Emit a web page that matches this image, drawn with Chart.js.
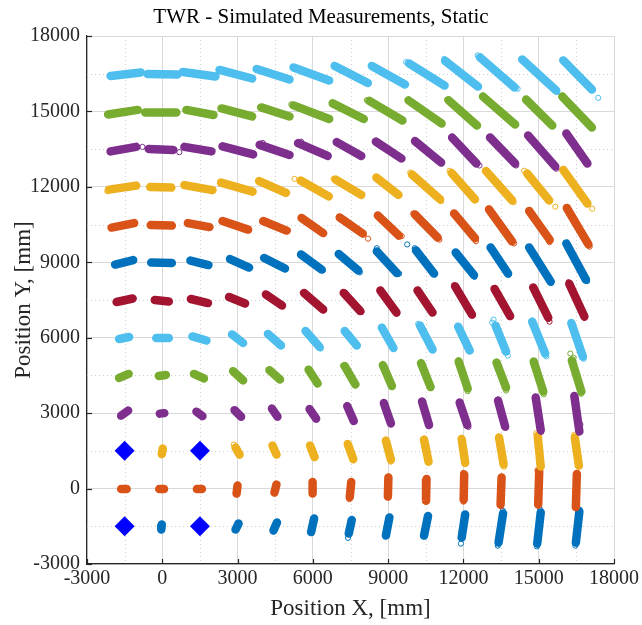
<!DOCTYPE html>
<html><head><meta charset="utf-8">
<script src="https://cdn.jsdelivr.net/npm/chart.js@4.4.0/dist/chart.umd.min.js"></script>
<style>html,body{margin:0;padding:0;background:#fff}#wrap{width:642px;height:625px}</style>
</head><body><div id="wrap"><canvas id="c" width="642" height="625"></canvas></div>
<script>
// ---- data (mm) ----
const majorTicks = [-3000, 0, 3000, 6000, 9000, 12000, 15000, 18000];
const minorTicks = [-1500, 1500, 4500, 7500, 10500, 13500, 16500];
const anchorsX = [-1500, 1500, -1500, 1500];
const anchorsY = [-1500, -1500, 1500, 1500];
// each cluster: [x1, y1, x2, y2] = the two ends of the measurement cloud
const segY_m1500 = [[-20,-1430,-40,-1630],[3040,-1390,2920,-1630],[4570,-1350,4430,-1670],[6050,-1190,5930,-1730],[7550,-1250,7430,-1790],[9050,-1150,8910,-1870],[10590,-1090,10430,-1870],[12070,-1030,11930,-1950],[13580,-990,13400,-2150],[15080,-950,14940,-2190],[16620,-910,16480,-2150]];
const segY_0 = [[-1640,-20,-1420,-20],[-120,-20,70,-20],[1380,-20,1580,-20],[3000,120,2960,-200],[4550,160,4470,-160],[5990,260,5990,-200],[7530,260,7470,-340],[9010,440,8990,-320],[10530,380,10510,-480],[12030,560,12010,-440],[13520,440,13480,-640],[15020,680,14980,-640],[16520,580,16480,-740]];
const segY_1500 = [[20,1590,-20,1370],[2920,1630,3080,1350],[4390,1710,4550,1350],[5890,1710,6070,1250],[7390,1770,7610,1170],[8910,1910,9110,1150],[10430,1950,10610,1070],[11930,1970,12070,1030],[13420,2030,13600,970],[14960,2090,15080,880],[16440,2030,16600,910]];
const segY_3000 = [[-1640,2900,-1360,3100],[-100,2980,80,3000],[1360,3060,1600,2880],[2880,3120,3140,2860],[4370,3180,4590,2860],[5870,3160,6130,2780],[7370,3280,7630,2690],[8830,3400,9110,2590],[10350,3460,10630,2530],[11850,3420,12150,2530],[13380,3500,13660,2470],[14880,3620,15080,2330],[16420,3680,16620,2270]];
const segY_4500 = [[-1720,4400,-1340,4560],[-140,4480,140,4520],[1260,4560,1660,4380],[2820,4670,3220,4300],[4270,4710,4690,4340],[5830,4730,6190,4180],[7270,4870,7690,4140],[8790,4910,9150,4080],[10310,4990,10690,4040],[11810,5050,12170,3980],[13320,5010,13700,4020],[14800,5050,15180,3860],[16320,5090,16700,3860]];
const segY_6000 = [[-1720,5950,-1320,6030],[-240,5990,260,5990],[1200,6050,1760,5890],[2780,6130,3220,5790],[4210,6150,4730,5690],[5710,6270,6270,5630],[7270,6270,7750,5690],[8750,6400,9210,5590],[10270,6480,10770,5530],[11790,6440,12250,5490],[13280,6480,13700,5450],[14740,6640,15260,5370],[16300,6580,16760,5250]];
const segY_7500 = [[-1820,7420,-1180,7560],[-300,7500,260,7440],[1140,7540,1820,7380],[2660,7620,3300,7360],[4130,7720,4770,7280],[5650,7780,6410,7120],[7230,7780,7890,7060],[8690,7880,9330,7000],[10170,7880,10770,7000],[11670,8040,12340,6920],[13240,7940,13860,6860],[14780,8000,15380,6800],[16220,8140,16820,6840]];
const segY_9000 = [[-1880,8910,-1160,9090],[-440,8990,380,8970],[1120,9070,1840,8890],[2700,9130,3460,8790],[4060,9170,4890,8750],[5530,9310,6350,8710],[7030,9330,7810,8670],[8550,9430,9350,8570],[10110,9470,10830,8550],[11690,9390,12420,8490],[13080,9590,13780,8550],[14620,9590,15480,8230],[16100,9750,16880,8310]];
const segY_10500 = [[-2020,10380,-1120,10560],[-460,10480,380,10460],[1020,10560,1880,10400],[2400,10640,3420,10300],[4020,10640,4950,10260],[5550,10760,6410,10160],[7070,10780,7990,10140],[8590,10860,9430,10060],[10070,10900,10970,9990],[11630,10940,12460,9960],[13020,11100,13940,9830],[14620,11040,15440,9890],[16120,11160,16980,9710]];
const segY_12000 = [[-2120,11890,-1040,12050],[-480,11990,360,11970],[880,12070,2000,11870],[2340,12170,3600,11810],[3860,12230,4930,11760],[5510,12250,6630,11620],[6910,12290,7930,11680],[8530,12370,9410,11680],[9950,12490,11070,11500],[11530,12550,12460,11500],[12900,12630,13940,11460],[14540,12530,15420,11460],[15980,12670,16940,11340]];
const segY_13500 = [[-2060,13410,-1040,13590],[-540,13510,440,13470],[880,13590,1960,13410],[2400,13610,3620,13290],[3880,13670,5070,13270],[5410,13740,6590,13230],[6950,13780,7930,13230],[8510,13800,9530,13130],[10070,13820,11110,12970],[11550,13960,12520,12930],[13060,13960,14060,12930],[14580,14040,15660,12810],[16100,14120,16940,12930]];
const segY_15000 = [[-2160,14880,-980,15060],[-680,14960,560,14960],[960,15060,2040,14860],[2360,15120,3580,14800],[3940,15160,5070,14800],[5230,15240,6650,14700],[6790,15320,8030,14700],[8250,15420,9570,14640],[9810,15440,11130,14520],[11410,15440,12540,14440],[12780,15590,14060,14480],[14500,15470,15540,14440],[15940,15590,17120,14360]];
const segY_16500 = [[-2060,16410,-860,16550],[-580,16490,600,16470],[820,16570,2120,16390],[2280,16650,3580,16310],[3760,16690,5070,16270],[5230,16750,6650,16230],[6870,16810,8190,16130],[8350,16810,9670,16070],[9830,16910,11250,16030],[11270,17010,12580,15990],[12660,17150,14040,15950],[14340,17070,15700,15830],[15980,17030,17120,15870]];

const outY_m1500 = [[7400,-1960],[11900,-2190],[13370,-2270],[14930,-2300],[16460,-2270],[16630,-840],[13570,-880],[15060,-840]];
const outY_0 = [[11990,620],[13500,-700],[14950,730],[16500,-770],[12000,-520],[7450,-420]];
const outY_1500 = [[12040,980],[13620,870],[2850,1750],[14900,2200],[16420,2140],[9110,1070]];
const outY_3000 = [[16660,2550],[13700,2420],[12200,2450],[15100,2250]];
const outY_4500 = [[16260,5370],[16390,5200],[16690,3770],[7200,4890],[7740,4140],[11800,5100],[12170,3870],[13700,3900],[15200,3750]];
const outY_6000 = [[6310,5570],[10200,6550],[13200,6720],[13770,5290],[15300,5260],[16790,5160],[13150,6600]];
const outY_7500 = [[5600,7790],[6430,7090],[7940,7030],[9360,6960],[11630,8090],[12370,6880],[15390,6750],[15430,6640],[16190,8210],[16820,6790]];
const outY_9000 = [[9760,9710],[6400,8680],[7870,8600],[9440,8550],[12440,8420],[15490,8180],[16930,8250],[13800,8510],[8550,9560],[10060,9560]];
const outY_10500 = [[5010,10270],[8200,9940],[9540,10040],[10000,10940],[11040,9900],[12500,9840],[14020,9750],[15430,9800],[17030,9620],[13000,11140]];
const outY_12000 = [[-2190,11830],[5270,12320],[6670,11630],[6830,12320],[11110,11430],[14000,11390],[15660,11210],[17130,11130],[9880,12570],[11450,12640],[14420,12640]];
const outY_13500 = [[-790,13590],[680,13380],[11130,12930],[14100,12850],[12640,12850],[15700,12720],[4000,13750],[5530,13800]];
const outY_15000 = [[5140,15280],[6670,14680],[12770,15630],[15970,15630],[11350,15470],[8150,15450]];
const outY_16500 = [[17370,15540],[12570,17230],[15730,15770],[14160,15900],[11240,17090],[9720,16960]];

const rows = [segY_m1500, segY_0, segY_1500, segY_3000, segY_4500, segY_6000, segY_7500, segY_9000, segY_10500, segY_12000, segY_13500, segY_15000, segY_16500];
const outliers = [outY_m1500, outY_0, outY_1500, outY_3000, outY_4500, outY_6000, outY_7500, outY_9000, outY_10500, outY_12000, outY_13500, outY_15000, outY_16500];
const palette = ['#0072BD','#D95319','#EDB120','#7E2F8E','#77AC30','#4DBEEE','#A2142F'];

function toData(segs){
  const out = [];
  segs.forEach(s => { out.push({x:s[0],y:s[1]}, {x:s[2],y:s[3]}, {x:null,y:null}); });
  return out;
}

const datasets = [{
  label: 'Anchors',
  data: anchorsX.map((x,i)=>({x, y: anchorsY[i]})),
  pointStyle: 'rectRot', pointRadius: 10, pointHoverRadius: 10,
  backgroundColor: '#0000FF', borderColor: '#0000FF', borderWidth: 0,
  showLine: false, order: 0
}];
rows.forEach((segs, i) => {
  const c = palette[i % palette.length];
  datasets.push({
    label: 'row' + i, data: toData(segs), showLine: true, spanGaps: false,
    borderColor: c, backgroundColor: c, borderWidth: 8.5, borderCapStyle: 'round',
    pointRadius: 0, pointHoverRadius: 0, order: 100 - i
  });
  datasets.push({
    label: 'out' + i, data: outliers[i].map(p => ({x:p[0], y:p[1]})), showLine: false,
    pointStyle: 'circle', pointRadius: 2.6, pointHoverRadius: 2.6, pointBorderWidth: 1,
    borderColor: c, pointBorderColor: c, backgroundColor: 'rgba(255,255,255,0)',
    pointBackgroundColor: 'rgba(255,255,255,0)', order: 100 - i
  });
});

const SERIF = "'Liberation Serif', 'DejaVu Serif', serif";
const deco = {
  id: 'deco',
  beforeDatasetsDraw(chart){
    const {ctx, chartArea: a, scales:{x, y}} = chart;
    ctx.save();
    ctx.strokeStyle = '#cfcfcf'; ctx.lineWidth = 1; ctx.setLineDash([1,3]);
    minorTicks.forEach(v => {
      const px = Math.round(x.getPixelForValue(v)) + 0.5;
      ctx.beginPath(); ctx.moveTo(px, a.top); ctx.lineTo(px, a.bottom); ctx.stroke();
      const py = Math.round(y.getPixelForValue(v)) + 0.5;
      ctx.beginPath(); ctx.moveTo(a.left, py); ctx.lineTo(a.right, py); ctx.stroke();
    });
    ctx.restore();
  },
  afterDatasetsDraw(chart){
    const {ctx, chartArea: a, scales:{x, y}} = chart;
    ctx.save();
    ctx.strokeStyle = '#262626'; ctx.lineWidth = 1.2;
    majorTicks.forEach(v => {
      const px = Math.round(x.getPixelForValue(v)) + 0.5;
      ctx.beginPath(); ctx.moveTo(px, a.bottom); ctx.lineTo(px, a.bottom - 5); ctx.stroke();
      const py = Math.round(y.getPixelForValue(v)) + 0.5;
      ctx.beginPath(); ctx.moveTo(a.left, py); ctx.lineTo(a.left + 5, py); ctx.stroke();
    });
    ctx.restore();
  }
};

new Chart(document.getElementById('c'), {
  type: 'scatter',
  data: { datasets },
  plugins: [deco],
  options: {
    responsive: false, animation: false, devicePixelRatio: 1,
    layout: { padding: 0 },
    plugins: {
      legend: { display: false }, tooltip: { enabled: false },
      title: { display: true, text: 'TWR - Simulated Measurements, Static', color: '#000',
        font: { family: SERIF, size: 21, weight: 'normal' }, padding: { top: 5, bottom: 5.8 } }
    },
    scales: {
      x: {
        type: 'linear', min: -3000, max: 18000,
        afterBuildTicks: s => { s.ticks = majorTicks.map(v => ({value: v})); },
        afterFit: s => { s.height = 61; },
        ticks: { color: '#262626', padding: 3, maxRotation: 0, autoSkip: false,
          font: { family: SERIF, size: 20 }, callback: v => String(v) },
        grid: { color: '#d9d9d9', lineWidth: 1, drawTicks: false },
        border: { display: true, color: '#262626', width: 1.2 },
        title: { display: true, text: 'Position X, [mm]', color: '#262626',
          font: { family: SERIF, size: 23 }, padding: { top: 2, bottom: 2 } }
      },
      y: {
        type: 'linear', min: -3000, max: 18000,
        afterBuildTicks: s => { s.ticks = majorTicks.map(v => ({value: v})); },
        afterFit: s => { s.width = 87; },
        ticks: { color: '#262626', padding: 7, autoSkip: false,
          font: { family: SERIF, size: 20 }, callback: v => String(v) },
        grid: { color: '#d9d9d9', lineWidth: 1, drawTicks: false },
        border: { display: true, color: '#262626', width: 1.2 },
        title: { display: true, text: 'Position Y, [mm]', color: '#262626',
          font: { family: SERIF, size: 23 }, padding: { top: 10, bottom: 2 } }
      },
      yR: {
        type: 'linear', position: 'right', min: -3000, max: 18000, display: true,
        afterFit: s => { s.width = 28; },
        ticks: { display: false }, grid: { display: false, drawTicks: false },
        border: { display: false }, title: { display: false }
      }
    }
  }
});
</script></body></html>
